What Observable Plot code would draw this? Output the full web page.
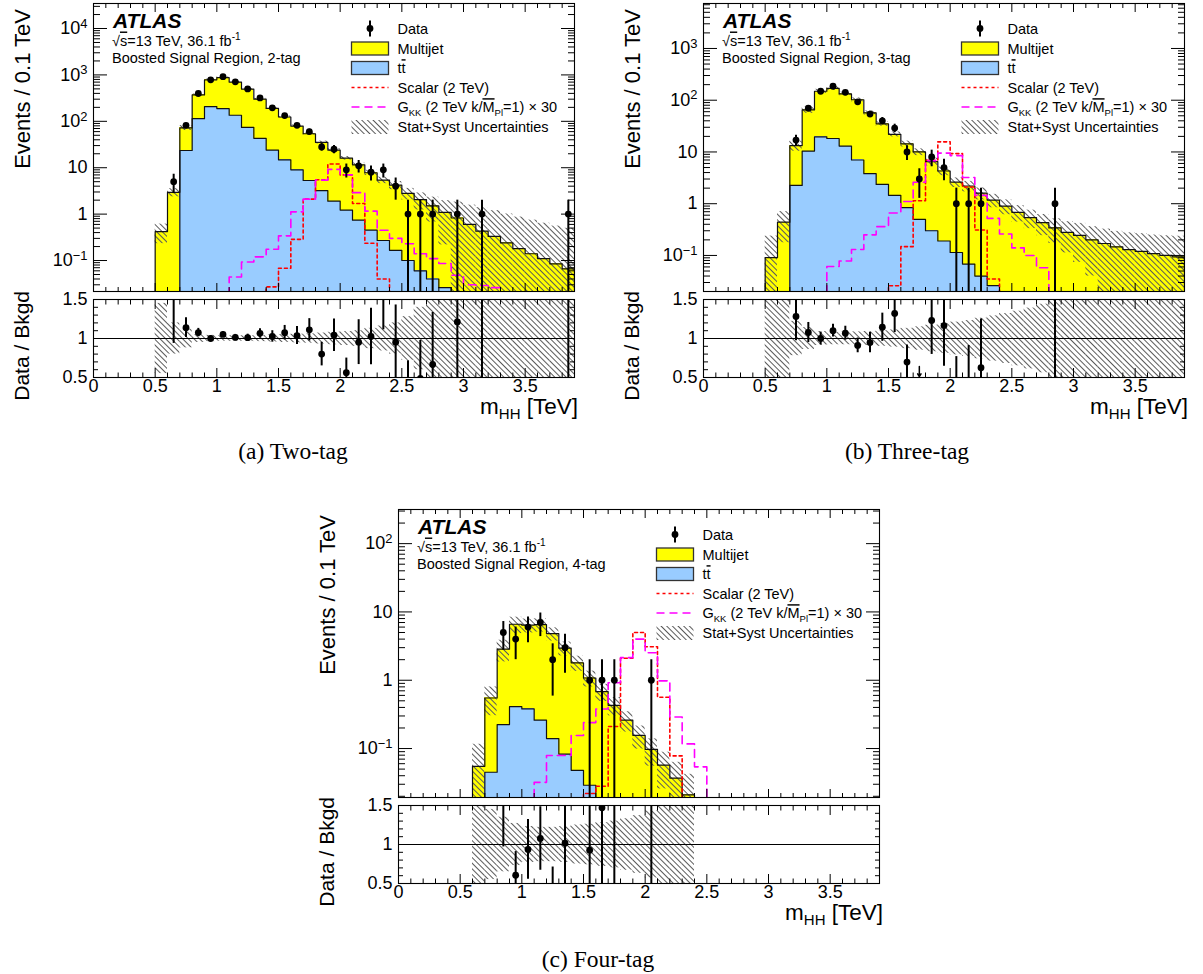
<!DOCTYPE html>
<html><head><meta charset="utf-8">
<script src="https://cdn.jsdelivr.net/npm/d3@7"></script>
<script src="https://cdn.jsdelivr.net/npm/@observablehq/plot@0.6"></script>
<style>
html,body{margin:0;padding:0;background:#fff;}
#page{position:relative;width:1203px;height:974px;overflow:hidden;background:#fff;}
#page svg{position:absolute;overflow:visible;}
</style></head>
<body><div id="page">
<svg width="0" height="0" style="left:0;top:0"><defs>
<pattern id="hatch" width="4" height="4" patternUnits="userSpaceOnUse" patternTransform="rotate(-45)">
<line x1="0.5" y1="-1" x2="0.5" y2="5" stroke="#5a5a5a" stroke-width="1"/></pattern></defs></svg>
</div>
<script>
const FONT = '"Liberation Sans", Arimo, Helvetica, Arial, sans-serif';
const SERIF = '"Liberation Serif", "Times New Roman", Times, serif';
const FLOOR = 1e-4;

// ---- shared axis / tick labels ----
const X_DOMAIN = [0, 3.9];
const xMajorTicks = [0, 0.5, 1, 1.5, 2, 2.5, 3, 3.5];
const xMajorLabels = ["0", "0.5", "1", "1.5", "2", "2.5", "3", "3.5"];
const ratioTicks = [0.5, 1, 1.5];
const ratioLabels = ["0.5", "1", "1.5"];
const RATIO_DOMAIN = [0.5, 1.5];

// ---- (a) two-tag : bins of 0.1 TeV starting at 0.5 TeV ----
const aBinStart = 0.5;
const aMultijet = [0.42, 2.95, 48.5, 256, 577, 682, 565, 421, 257, 166, 109, 70, 48.7, 31.8, 22.1, 14.8, 10.8, 7.35, 5.13, 4.03, 2.7, 1.99, 1.46, 1.06, 0.81, 0.6, 0.43, 0.33, 0.24, 0.18, 0.14, 0.11, 0.085, 0.066];
const aTtbar = [0, 0, 23.5, 114, 208, 188, 135, 74, 43, 24, 14.8, 9, 5.3, 3.2, 1.9, 1.22, 0.74, 0.45, 0.27, 0.166, 0.1, 0.06, 0.04, 0.026, 0.015, 0, 0, 0, 0, 0, 0, 0, 0, 0];
const aRelUnc = [0.45, 0.2, 0.12, 0.05, 0.04, 0.035, 0.035, 0.035, 0.04, 0.045, 0.05, 0.055, 0.06, 0.07, 0.08, 0.09, 0.1, 0.13, 0.16, 0.2, 0.28, 0.4, 0.55, 0.8, 1.2, 1.6, 2.2, 2.6, 3.2, 3.8, 4.3, 4.8, 5.5, 6.5];
const aData = [0, 5, 82, 398, 785, 915, 710, 500, 320, 195, 133, 82, 60, 28, 25, 9, 11, 8, 9, 4, 1, 1, 1, 0, 1, 0, 1, 0, 0, 0, 0, 0, 0, 1];
const aScalarStart = 1.3;
const aScalar = [0.012, 0.027, 0.068, 0.286, 2.1, 5.5, 12, 7.0, 1.7, 0.235, 0.04];
const aGkkStart = 1.1;
const aGkk = [0.044, 0.093, 0.12, 0.175, 0.34, 1.12, 2.1, 5.4, 9.2, 7.0, 2.9, 1.16, 0.45, 0.30, 0.23, 0.14, 0.11, 0.086, 0.048, 0.030, 0.029, 0.026];
const aYTicks = [0.1, 1, 10, 100, 1000, 10000];
const aYLabels = ["10⁻¹", "1", "10", "10²", "10³", "10⁴"];

// ---- (b) three-tag ----
const bBinStart = 0.5;
const bMultijet = [0.091, 0.44, 11.0, 54.6, 129.4, 150.8, 120, 95, 53.2, 32.6, 20.5, 13.5, 9.5, 6.2, 4.1, 2.49, 2.13, 1.56, 1.15, 0.885, 0.68, 0.54, 0.43, 0.34, 0.28, 0.245, 0.2, 0.17, 0.146, 0.13, 0.12, 0.108, 0.1, 0.094];
const bTtbar = [0, 0, 2.26, 10.4, 19.6, 18.2, 13, 7, 3.8, 2.36, 1.45, 0.84, 0.5, 0.3, 0.19, 0.114, 0.068, 0.04, 0.026, 0.015, 0, 0, 0, 0, 0, 0, 0, 0, 0, 0, 0, 0, 0, 0];
const bRelUnc = [1.6, 0.6, 0.22, 0.14, 0.09, 0.08, 0.08, 0.085, 0.09, 0.1, 0.11, 0.13, 0.15, 0.17, 0.19, 0.21, 0.23, 0.26, 0.29, 0.32, 0.35, 0.39, 0.44, 0.5, 0.6, 0.7, 0.8, 0.9, 1.0, 1.1, 1.2, 1.3, 1.4, 1.5];
const bData = [0, 0, 17, 70, 149, 186, 142, 93, 54, 40, 29, 10, 3, 8, 5, 1, 1, 1, 0, 0, 0, 0, 0, 1, 0, 0, 0, 0, 0, 0, 0, 0, 0, 0];
const bScalarStart = 1.5;
const bScalar = [0.026, 0.148, 1.14, 6.9, 15.7, 9.3, 2.1, 0.31, 0.035];
const bGkkStart = 1.0;
const bGkk = [0.061, 0.078, 0.13, 0.25, 0.36, 0.66, 1.1, 2.6, 6.8, 9.5, 8.5, 3.2, 1.45, 0.52, 0.26, 0.14, 0.1, 0.058];
const bYTicks = [0.1, 1, 10, 100, 1000];
const bYLabels = ["10⁻¹", "1", "10", "10²", "10³"];

// ---- (c) four-tag ----
const cBinStart = 0.6;
const cMultijet = [0.055, 0.505, 2.63, 6.19, 6.02, 6.24, 4.66, 2.87, 1.75, 1.05, 0.68, 0.43, 0.26, 0.156, 0.097, 0.057, 0.037, 0.021];
const cTtbar = [0, 0.045, 0.224, 0.41, 0.38, 0.26, 0.14, 0.083, 0.048, 0.029, 0, 0, 0, 0, 0, 0, 0, 0];
const cRelUnc = [1.1, 0.45, 0.35, 0.27, 0.23, 0.22, 0.22, 0.23, 0.25, 0.26, 0.28, 0.3, 0.33, 0.37, 0.43, 0.55, 0.7, 1.0];
const cData = [0, 0, 5, 4, 6, 7, 2, 3, 0, 1, 1, 1, 0, 0, 1, 0, 0, 0];
const cScalarStart = 1.5;
const cScalar = [0.022, 0.028, 0.21, 2.1, 5.0, 3.1, 0.565, 0.078];
const cGkkStart = 1.1;
const cGkk = [0.032, 0.079, 0.079, 0.155, 0.24, 0.38, 0.92, 2.14, 4.0, 2.53, 0.98, 0.29, 0.117, 0.054];
const cYTicks = [0.1, 1, 10, 100];
const cYLabels = ["10⁻¹", "1", "10", "10²"];

const panels = [
  {tag: "2-tag", caption: "(a) Two-tag", frame: {left: 93, top: 3, width: 481, height: 288, rTop: 299, rHeight: 78},
   capX: 293, capY: 459, yDomain: [0.0215, 34600], yTicks: aYTicks, yLabels: aYLabels,
   binStart: aBinStart, multijet: aMultijet, ttbar: aTtbar, relUnc: aRelUnc, data: aData,
   scalarStart: aScalarStart, scalar: aScalar, gkkStart: aGkkStart, gkk: aGkk},
  {tag: "3-tag", caption: "(b) Three-tag", frame: {left: 703, top: 3, width: 481, height: 288, rTop: 299, rHeight: 78},
   capX: 907, capY: 459, yDomain: [0.0201, 7400], yTicks: bYTicks, yLabels: bYLabels,
   binStart: bBinStart, multijet: bMultijet, ttbar: bTtbar, relUnc: bRelUnc, data: bData,
   scalarStart: bScalarStart, scalar: bScalar, gkkStart: bGkkStart, gkk: bGkk},
  {tag: "4-tag", caption: "(c) Four-tag", frame: {left: 398, top: 509, width: 481, height: 288, rTop: 805, rHeight: 78},
   capX: 598, capY: 967, yDomain: [0.0192, 316], yTicks: cYTicks, yLabels: cYLabels,
   binStart: cBinStart, multijet: cMultijet, ttbar: cTtbar, relUnc: cRelUnc, data: cData,
   scalarStart: cScalarStart, scalar: cScalar, gkkStart: cGkkStart, gkk: cGkk}
];

const r2 = v => Math.round(v * 1000) / 1000;
function binsOf(p) {
  return p.multijet.map((mj, i) => {
    const x1 = r2(p.binStart + i * 0.1), x2 = r2(x1 + 0.1);
    const tt = p.ttbar[i], tot = mj + tt, rel = p.relUnc[i];
    return {x1, x2, xc: r2(x1 + 0.05), mj, tt, tot, rel,
            lo: Math.max(tot * (1 - rel), FLOOR), hi: tot * (1 + rel), n: p.data[i]};
  });
}
function stepPoints(start, vals) {
  const n = vals.length, end = r2(start + n * 0.1);
  const pts = [{x: start, y: FLOOR}];
  vals.forEach((v, i) => pts.push({x: r2(start + i * 0.1), y: v > 0 ? v : FLOOR}));
  pts.push({x: end, y: vals[n - 1] > 0 ? vals[n - 1] : FLOOR});
  pts.push({x: end, y: FLOOR});
  return pts;
}
function logMinor(dom) {
  const out = [];
  for (let e = Math.floor(Math.log10(dom[0])); e <= Math.ceil(Math.log10(dom[1])); e++)
    for (let m = 2; m <= 9; m++) { const v = m * Math.pow(10, e); if (v >= dom[0] && v <= dom[1]) out.push(v); }
  return out;
}
const xMinorTicks = d3.range(1, 39).filter(i => i % 5 !== 0).map(i => i / 10);
const ratioMinor = d3.range(6, 15).filter(i => i !== 10).map(i => i / 10);
const labelOf = (ticks, labels) => d => labels[ticks.findIndex(v => Math.abs(v - d) <= 1e-9 * Math.abs(v) + 1e-12)];

function inwardTicks(kind, ticks, size) {
  if (kind === "y") return [
    Plot.axisY(ticks, {anchor: "left", tickSize: size, dx: size, fill: "none", label: null, strokeWidth: 1}),
    Plot.axisY(ticks, {anchor: "right", tickSize: size, dx: -size, fill: "none", label: null, strokeWidth: 1})
  ];
  return [
    Plot.axisX(ticks, {anchor: "bottom", tickSize: size, dy: -size, fill: "none", label: null, strokeWidth: 1}),
    Plot.axisX(ticks, {anchor: "top", tickSize: size, dy: size, fill: "none", label: null, strokeWidth: 1})
  ];
}

// turn unicode superscripts in tick labels into raised tspans (ROOT-like 10^n)
const SUP = {"⁰": "0", "¹": "1", "²": "2", "³": "3", "⁴": "4", "⁵": "5", "⁶": "6", "⁷": "7", "⁸": "8", "⁹": "9", "⁻": "−"};
function raiseSuperscripts(svg) {
  d3.select(svg).selectAll("text").each(function () {
    const t = this.textContent;
    const m = t.match(/^([^⁰¹²³⁴⁵⁶⁷⁸⁹⁻]*)([⁰¹²³⁴⁵⁶⁷⁸⁹⁻]+)$/);
    if (!m) return;
    const el = d3.select(this);
    el.text(null);
    el.append("tspan").text(m[1]);
    el.append("tspan").attr("dy", "-0.5em").attr("font-size", "0.72em").text(m[2].split("").map(c => SUP[c]).join(""));
  });
}

const ML = 70, MR = 8, MT = 6, MB = 6;
const page = document.getElementById("page");

function addLegend(svg, p) {
  const g = d3.select(svg).append("g").attr("font-family", FONT).attr("fill", "black").attr("text-anchor", "start");
  const fx = ML, fy = MT;
  g.append("text").attr("x", fx + 20).attr("y", fy + 25).attr("font-size", 21)
    .attr("font-weight", 700).attr("font-style", "italic").text("ATLAS");
  const t1 = g.append("text").attr("x", fx + 19).attr("y", fy + 42.5).attr("font-size", 14.5);
  t1.append("tspan").text("√");
  t1.append("tspan").style("text-decoration", "overline").text("s");
  t1.append("tspan").text("=13 TeV, 36.1 fb");
  t1.append("tspan").attr("font-size", 10).attr("dy", -6).text("-1");
  g.append("text").attr("x", fx + 19).attr("y", fy + 59.5).attr("font-size", 14.5).text("Boosted Signal Region, " + p.tag);

  const sx0 = fx + 258.5, sw = 37, tx = fx + 304.5, cx = sx0 + sw / 2;
  const rows = [25.5, 45.5, 65, 84.5, 104, 124].map(v => fy + v);
  const txt = (i) => g.append("text").attr("x", tx).attr("y", rows[i] + 5.2).attr("font-size", 14.5);
  g.append("line").attr("x1", cx).attr("x2", cx).attr("y1", rows[0] - 8).attr("y2", rows[0] + 8).attr("stroke", "black").attr("stroke-width", 2);
  g.append("circle").attr("cx", cx).attr("cy", rows[0]).attr("r", 3.4).attr("fill", "black");
  txt(0).text("Data");
  g.append("rect").attr("x", sx0).attr("y", rows[1] - 6.5).attr("width", sw).attr("height", 13).attr("fill", "#ffff00").attr("stroke", "#333").attr("stroke-width", 1.3);
  txt(1).text("Multijet");
  g.append("rect").attr("x", sx0).attr("y", rows[2] - 6.5).attr("width", sw).attr("height", 13).attr("fill", "#99ccff").attr("stroke", "#333").attr("stroke-width", 1.3);
  const tt = txt(2); tt.append("tspan").text("t"); tt.append("tspan").style("text-decoration", "overline").text("t");
  g.append("line").attr("x1", sx0).attr("x2", sx0 + sw).attr("y1", rows[3]).attr("y2", rows[3]).attr("stroke", "#ff0000").attr("stroke-width", 1.6).attr("stroke-dasharray", "3,3");
  txt(3).text("Scalar (2 TeV)");
  g.append("line").attr("x1", sx0).attr("x2", sx0 + sw).attr("y1", rows[4]).attr("y2", rows[4]).attr("stroke", "#ff00ff").attr("stroke-width", 1.6).attr("stroke-dasharray", "8,5");
  const gk = txt(4);
  gk.append("tspan").text("G");
  gk.append("tspan").attr("font-size", 9.5).attr("dy", 4).text("KK");
  gk.append("tspan").attr("dy", -4).text(" (2 TeV k/");
  gk.append("tspan").style("text-decoration", "overline").text("M");
  gk.append("tspan").attr("font-size", 9.5).attr("dy", 4).text("Pl");
  gk.append("tspan").attr("dy", -4).text("=1) × 30");
  g.append("rect").attr("x", sx0).attr("y", rows[5] - 7).attr("width", sw).attr("height", 14).attr("fill", "url(#hatch)");
  txt(5).text("Stat+Syst Uncertainties");
}

panels.forEach(p => {
  const F = p.frame;
  const bins = binsOf(p);
  const dataPts = bins.filter(d => d.n > 0);
  const yMinor = logMinor(p.yDomain);

  const main = Plot.plot({
    width: F.width + ML + MR, height: F.height + MT + MB,
    marginLeft: ML, marginRight: MR, marginTop: MT, marginBottom: MB,
    style: {fontFamily: FONT, fontSize: "18px", color: "black", background: "none", overflow: "visible"},
    x: {domain: X_DOMAIN},
    y: {type: "log", domain: p.yDomain},
    marks: [
      Plot.rectY(bins, {x1: "x1", x2: "x2", y1: FLOOR, y2: "tot", fill: "#ffff00", shapeRendering: "crispEdges", clip: true}),
      Plot.rectY(bins.filter(d => d.tt > 0), {x1: "x1", x2: "x2", y1: FLOOR, y2: "tt", fill: "#99ccff", shapeRendering: "crispEdges", clip: true}),
      Plot.rectY(bins, {x1: "x1", x2: "x2", y1: "lo", y2: "hi", fill: "url(#hatch)", clip: true}),
      Plot.line(stepPoints(p.binStart, bins.map(d => d.tot)), {x: "x", y: "y", curve: "step-after", stroke: "#111", strokeWidth: 1.2, clip: true}),
      Plot.line(stepPoints(p.binStart, bins.map(d => d.tt)), {x: "x", y: "y", curve: "step-after", stroke: "#111", strokeWidth: 1.2, clip: true}),
      Plot.line(stepPoints(p.scalarStart, p.scalar), {x: "x", y: "y", curve: "step-after", stroke: "#ff0000", strokeWidth: 1.6, strokeDasharray: "3,3", clip: true}),
      Plot.line(stepPoints(p.gkkStart, p.gkk), {x: "x", y: "y", curve: "step-after", stroke: "#ff00ff", strokeWidth: 1.6, strokeDasharray: "8,5", clip: true}),
      Plot.ruleX(dataPts, {x: "xc", y1: d => Math.max(d.n - Math.sqrt(d.n), FLOOR), y2: d => d.n + Math.sqrt(d.n), stroke: "black", strokeWidth: 2, clip: true}),
      Plot.dot(dataPts, {x: "xc", y: "n", r: 3.4, fill: "black", stroke: "none", clip: true}),
      ...inwardTicks("y", p.yTicks, 14),
      ...inwardTicks("y", yMinor, 7),
      ...inwardTicks("x", xMajorTicks, 8),
      ...inwardTicks("x", xMinorTicks, 4),
      Plot.axisY(p.yTicks, {anchor: "left", tickSize: 0, tickPadding: 6, tickFormat: labelOf(p.yTicks, p.yLabels), fontSize: 18, label: null}),
      Plot.frame({stroke: "black", strokeWidth: 1.1})
    ]
  });
  main.style.left = (F.left - ML) + "px";
  main.style.top = (F.top - MT) + "px";
  raiseSuperscripts(main);
  addLegend(main, p);
  page.appendChild(main);

  const ratioPts = dataPts.filter(d => d.tot > 0).map(d => ({xc: d.xc, r: d.n / d.tot, e: Math.sqrt(d.n) / d.tot}));
  const arrows = ratioPts.filter(d => d.r + d.e < RATIO_DOMAIN[0]);
  const RB = 34;
  const ratio = Plot.plot({
    width: F.width + ML + MR, height: F.rHeight + MT + RB,
    marginLeft: ML, marginRight: MR, marginTop: MT, marginBottom: RB,
    style: {fontFamily: FONT, fontSize: "18px", color: "black", background: "none", overflow: "visible"},
    x: {domain: X_DOMAIN},
    y: {domain: RATIO_DOMAIN},
    marks: [
      Plot.rectY(bins, {x1: "x1", x2: "x2", y1: d => 1 - d.rel, y2: d => 1 + d.rel, fill: "url(#hatch)", clip: true}),
      Plot.ruleY([1], {stroke: "black", strokeWidth: 1.2}),
      Plot.ruleX(ratioPts, {x: "xc", y1: d => d.r - d.e, y2: d => d.r + d.e, stroke: "black", strokeWidth: 2, clip: true}),
      Plot.dot(ratioPts, {x: "xc", y: "r", r: 3.4, fill: "black", stroke: "none", clip: true}),
      Plot.arrow(arrows, {x1: "xc", x2: "xc", y1: 0.64, y2: 0.51, stroke: "black", strokeWidth: 1.5, headLength: 6}),
      ...inwardTicks("y", ratioTicks, 9),
      ...inwardTicks("y", ratioMinor, 5),
      ...inwardTicks("x", xMajorTicks, 9),
      ...inwardTicks("x", xMinorTicks, 4.5),
      Plot.axisY(ratioTicks, {anchor: "left", tickSize: 0, tickPadding: 6, tickFormat: labelOf(ratioTicks, ratioLabels), fontSize: 18, label: null}),
      Plot.axisX(xMajorTicks, {anchor: "bottom", tickSize: 0, tickPadding: 2, tickFormat: labelOf(xMajorTicks, xMajorLabels), fontSize: 18, label: null}),
      Plot.frame({stroke: "black", strokeWidth: 1.1})
    ]
  });
  ratio.style.left = (F.left - ML) + "px";
  ratio.style.top = (F.rTop - MT) + "px";
  page.appendChild(ratio);
});

// ---- titles and captions overlay ----
const ov = d3.select(page).append("svg").attr("width", 1203).attr("height", 974)
  .style("left", "0px").style("top", "0px").style("pointer-events", "none")
  .attr("font-family", FONT).attr("fill", "black");
panels.forEach(p => {
  const F = p.frame;
  ov.append("text").attr("transform", `translate(${F.left - 71},${F.top + 6}) rotate(-90)`)
    .attr("text-anchor", "end").attr("dy", "0.35em").attr("font-size", 22).text("Events / 0.1 TeV");
  ov.append("text").attr("transform", `translate(${F.left - 71},${F.rTop - 8}) rotate(-90)`)
    .attr("text-anchor", "end").attr("dy", "0.35em").attr("font-size", 21).text("Data / Bkgd");
  const xt = ov.append("text").attr("x", F.left + F.width + 4).attr("y", F.rTop + F.rHeight + 37)
    .attr("text-anchor", "end").attr("font-size", 22.5);
  xt.append("tspan").text("m");
  xt.append("tspan").attr("font-size", 15).attr("dy", 5).text("HH");
  xt.append("tspan").attr("dy", -5).text(" [TeV]");
  ov.append("text").attr("x", p.capX).attr("y", p.capY).attr("text-anchor", "middle")
    .attr("font-family", SERIF).attr("font-size", 23.5).text(p.caption);
});
</script></body></html>
